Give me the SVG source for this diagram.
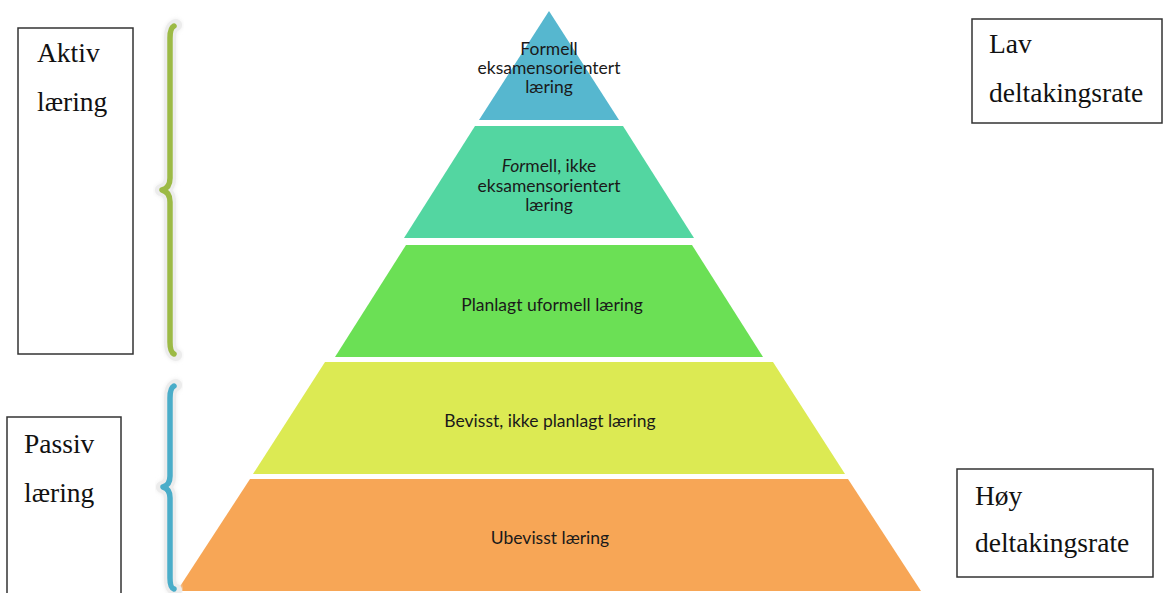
<svg xmlns="http://www.w3.org/2000/svg" width="1163" height="593" viewBox="0 0 1163 593">
<defs>
<style>
.box{fill:#fff;stroke:#333;stroke-width:1.5}
.serif{font-family:"Liberation Serif","Times New Roman",serif;font-size:27.5px;fill:#111}
.lbl{font-family:Lato,"Open Sans","Liberation Sans",sans-serif;font-size:17.5px;fill:#1a1a1a;text-anchor:middle}
.halo{fill:none;stroke:#ececec;stroke-width:12;stroke-linecap:round;stroke-linejoin:round}
.shadow{fill:none;stroke-width:7;stroke-linecap:round;opacity:0.35}
.brace{fill:none;stroke-width:5.5;stroke-linecap:round;stroke-linejoin:round}
</style>
<filter id="blur" x="-50%" y="-10%" width="200%" height="120%"><feGaussianBlur stdDeviation="2"/></filter>
</defs>
<rect width="1163" height="593" fill="#fff"/>

<g id="pyramid">
<g id="level1"><polygon points="549,11 619,120 479,120" fill="#56B7CF"/>
<text class="lbl"><tspan x="549" y="55">Formell</tspan><tspan x="549" y="74">eksamensorientert</tspan><tspan x="549" y="93">læring</tspan></text></g>
<g id="level2"><polygon points="475,126 623,126 694,238 404,238" fill="#53D6A1"/>
<text class="lbl"><tspan x="549" y="172"><tspan font-style="italic">For</tspan>mell, ikke</tspan><tspan x="549" y="191.5">eksamensorientert</tspan><tspan x="549" y="211">læring</tspan></text></g>
<g id="level3"><polygon points="406,245 692,245 763,357 335,357" fill="#6BE055"/>
<text class="lbl" x="552" y="311">Planlagt uformell læring</text></g>
<g id="level4"><polygon points="325,362 773,362 845,474 253,474" fill="#DCEA53"/>
<text class="lbl" x="550" y="427">Bevisst, ikke planlagt læring</text></g>
<g id="level5"><polygon points="250,479 848,479 921,591 177,591" fill="#F7A656"/>
<text class="lbl" x="550" y="544">Ubevisst læring</text></g>
</g>

<g id="connectors">
<g id="brace-aktiv">
<path class="halo" filter="url(#blur)" d="M176 25 Q170 27 170 38 L170 178 Q170 188 161 190 Q170 192 170 202 L170 342 Q170 353 176 355"/>
<path class="halo" d="M176 25 Q170 27 170 38 L170 178 Q170 188 161 190 Q170 192 170 202 L170 342 Q170 353 176 355" stroke-width="9"/>
<path class="shadow" stroke="#6f7f3a" filter="url(#blur)" d="M174 32 L174 348"/>
<path class="brace" stroke="#9CBA45" d="M174 26 Q170 28 170 38 L170 178 Q170 188 162 190 Q170 192 170 202 L170 342 Q170 352 174 354"/>
</g>
<g id="brace-passiv">
<path class="halo" filter="url(#blur)" d="M176 385 Q170 387 170 398 L170 476 Q170 485 162 487 Q170 489 170 498 L170 578 Q170 589 176 590"/>
<path class="halo" d="M176 385 Q170 387 170 398 L170 476 Q170 485 162 487 Q170 489 170 498 L170 578 Q170 589 176 590" stroke-width="9"/>
<path class="shadow" stroke="#3b7f92" filter="url(#blur)" d="M174 392 L174 584"/>
<path class="brace" stroke="#4AADC9" d="M174 386 Q170 388 170 398 L170 476 Q170 485 163 487 Q170 489 170 498 L170 578 Q170 588 174 589"/>
</g>
</g>

<g id="box-aktiv">
<rect class="box" x="18" y="28" width="115" height="326"/>
<text class="serif"><tspan x="37" y="62">Aktiv</tspan><tspan x="37" y="111">læring</tspan></text>
</g>
<g id="box-passiv">
<rect class="box" x="7" y="417" width="114" height="180"/>
<text class="serif"><tspan x="24" y="453">Passiv</tspan><tspan x="24" y="502">læring</tspan></text>
</g>
<g id="box-lav">
<rect class="box" x="972" y="19" width="190" height="104"/>
<text class="serif"><tspan x="989" y="53">Lav</tspan><tspan x="989" y="102">deltakingsrate</tspan></text>
</g>
<g id="box-hoy">
<rect class="box" x="957" y="469" width="196" height="108"/>
<text class="serif"><tspan x="975" y="505">Høy</tspan><tspan x="975" y="552">deltakingsrate</tspan></text>
</g>
</svg>
